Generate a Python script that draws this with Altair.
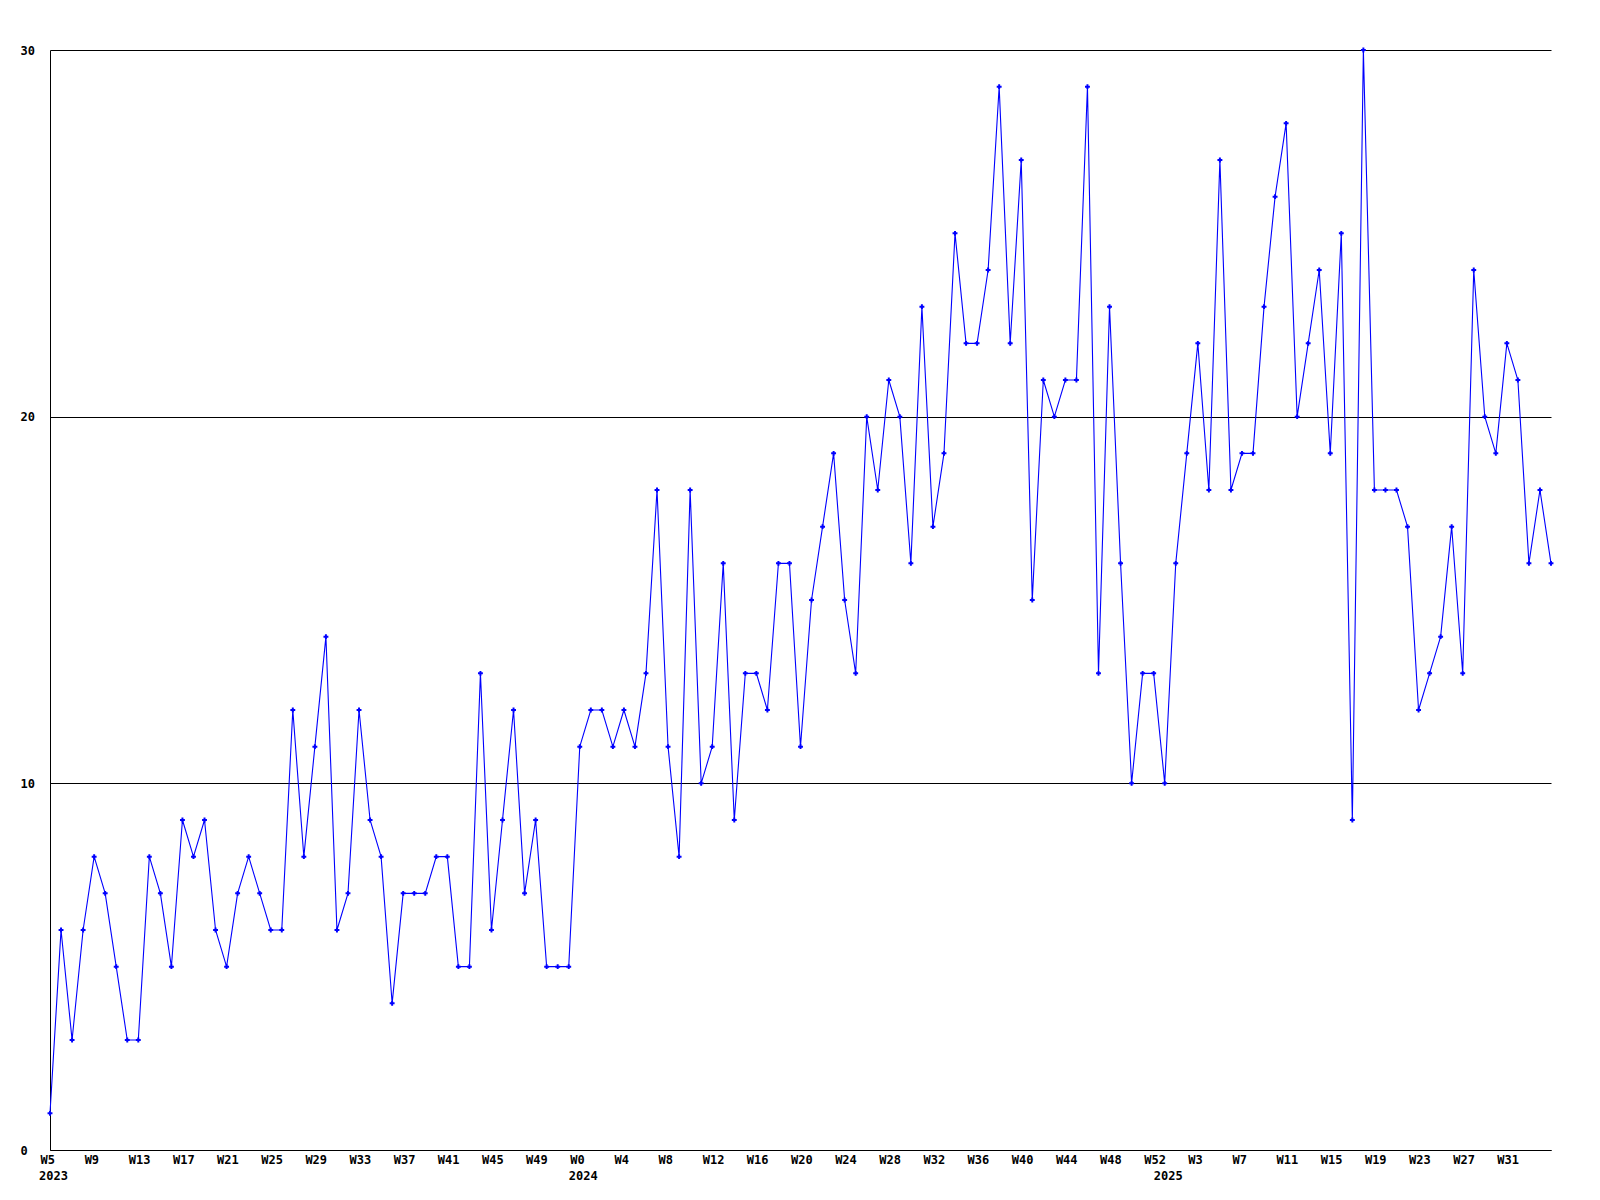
import json
import altair as alt
import pandas as pd

values_2023 = [1, 6, 3, 6, 8, 7, 5, 3, 3, 8, 7, 5, 9, 8, 9, 6, 5, 7, 8, 7, 6, 6, 12, 8,
               11, 14, 6, 7, 12, 9, 8, 4, 7, 7, 7, 8, 8, 5, 5, 13, 6, 9, 12, 7, 9, 5, 5, 5]
values_2024 = [11, 12, 12, 11, 12, 11, 13, 18, 11, 8, 18, 10, 11, 16, 9, 13, 13, 12, 16, 16,
               11, 15, 17, 19, 15, 13, 20, 18, 21, 20, 16, 23, 17, 19, 25, 22, 22, 24, 29, 22,
               27, 15, 21, 20, 21, 21, 29, 13, 23, 16, 10, 13, 13]
values_2025 = [10, 16, 19, 22, 18, 27, 18, 19, 19, 23, 26, 28, 20, 22, 24, 19, 25, 9, 30, 18,
               18, 18, 17, 12, 13, 14, 17, 13, 24, 20, 19, 22, 21, 16, 18, 16]

tick_labels = ["W5", "W9", "W13", "W17", "W21", "W25", "W29", "W33", "W37", "W41", "W45", "W49",
               "W0", "W4", "W8", "W12", "W16", "W20", "W24", "W28", "W32", "W36", "W40", "W44",
               "W48", "W52",
               "W3", "W7", "W11", "W15", "W19", "W23", "W27", "W31"]
years = ["2023", "2024", "2025"]

series = values_2023 + values_2024 + values_2025
df = pd.DataFrame({"i": list(range(len(series))), "v": series})

year_pos = [0, len(values_2023), len(values_2023) + len(values_2024)]
years_df = pd.DataFrame({"i": year_pos, "year": years})

tick_values = [4 * k for k in range(len(tick_labels))]
label_map = {str(t): l for t, l in zip(tick_values, tick_labels)}
label_expr = json.dumps(label_map) + "[''+datum.value]"

W = 1501
H = 1100
FONT = "DejaVu Sans Mono"

xscale = alt.Scale(domain=[0, len(series) - 1], nice=False, zero=False)
yscale = alt.Scale(domain=[0, 30], nice=False)

xaxis = alt.Axis(values=tick_values, labelExpr=label_expr, title=None, grid=False,
                 ticks=False, domainColor="black", domainWidth=1,
                 labelAlign="left", labelBaseline="top", labelPadding=4, labelOffset=-10,
                 labelFont=FONT, labelFontSize=12, labelFontWeight="bold",
                 labelColor="black", labelOverlap=False, labelFlush=False)
yaxis = alt.Axis(values=[0, 10, 20, 30], title=None, grid=True, gridColor="black",
                 gridWidth=1, gridOpacity=1, ticks=False, domainColor="black", domainWidth=1,
                 labelAlign="left", labelBaseline="middle", labelPadding=30,
                 labelFont=FONT, labelFontSize=12, labelFontWeight="bold",
                 labelColor="black", labelFlush=False)

base = alt.Chart(df)
line = base.mark_line(color="#0000ff", strokeWidth=1.1).encode(
    x=alt.X("i:Q", scale=xscale, axis=xaxis),
    y=alt.Y("v:Q", scale=yscale, axis=yaxis),
)
pts = base.mark_point(shape="cross", filled=True, color="#0000ff", size=24, opacity=1).encode(
    x=alt.X("i:Q", scale=xscale),
    y=alt.Y("v:Q", scale=yscale),
)
yr = alt.Chart(years_df).mark_text(
    font=FONT, fontSize=12, fontWeight="bold", color="black",
    align="left", baseline="top", dx=-11
).encode(
    x=alt.X("i:Q", scale=xscale),
    y=alt.value(H + 21),
    text="year:N",
)

chart = alt.layer(line, pts, yr).properties(
    width=W, height=H,
    autosize=alt.AutoSizeParams(type="none"),
    padding={"left": 42, "top": 42, "right": 20, "bottom": 45},
    background="white",
).configure_view(stroke=None)

chart.save("out.html", embed_options={"renderer": "svg", "actions": False})
